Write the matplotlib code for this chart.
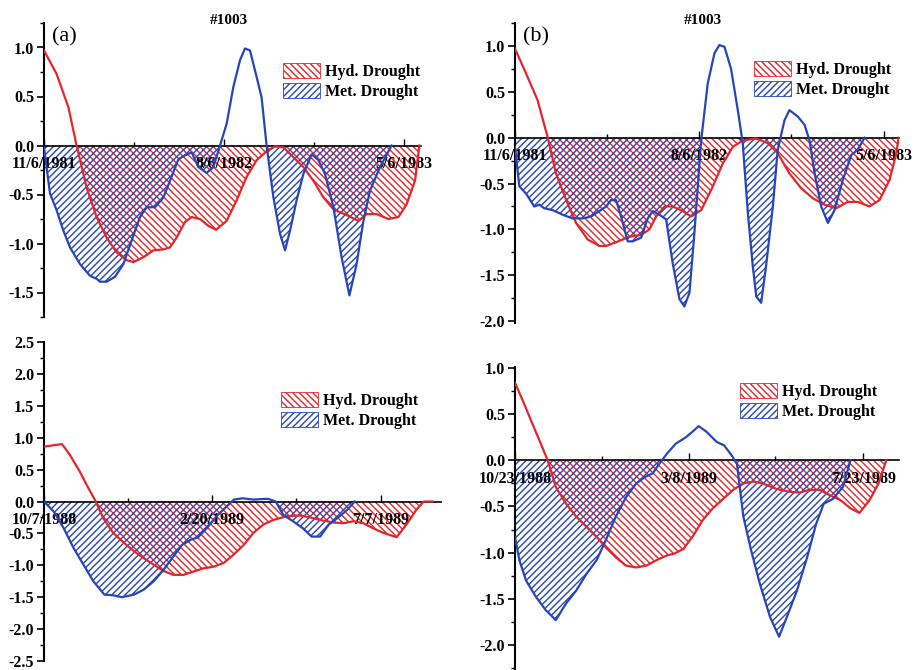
import numpy as np
import matplotlib
matplotlib.use("Agg")
import matplotlib.pyplot as plt
from matplotlib.patches import Patch
from matplotlib.ticker import MultipleLocator, FixedLocator

plt.rcParams['font.family'] = ['Liberation Serif', 'DejaVu Serif']
plt.rcParams['hatch.linewidth'] = 1.0

RED = '#e3262b'
BLUE = '#2646b8'
title = '#1003'
series_labels = ['Hyd. Drought', 'Met. Drought']

# ---- Panel (a): x in months since 11/6/1981
a_dates = ['11/6/1981', '8/6/1982', '5/6/1983']
a_date_pos = [0, 9, 18]
a_hyd_x = [0, 0.63, 1.22, 1.63, 2.13, 2.63, 3.13, 3.63, 4.13, 4.47, 4.97, 5.47, 5.97, 6.3, 6.63, 7.05,
           7.38, 7.8, 8.22, 8.6, 9.13, 9.63, 10.13, 10.63, 11.13, 11.55, 11.97, 12.47, 12.97, 13.47,
           13.97, 14.47, 15.13, 15.72, 16.13, 16.63, 17.22, 17.72, 18.13, 18.55, 18.77]
a_hyd_y = [0.97, 0.73, 0.39, 0.0, -0.43, -0.73, -0.94, -1.09, -1.17, -1.19, -1.14, -1.07, -1.06, -1.04,
           -0.94, -0.78, -0.73, -0.75, -0.82, -0.86, -0.77, -0.56, -0.32, -0.15, -0.06, -0.01, -0.02,
           -0.12, -0.22, -0.36, -0.53, -0.65, -0.71, -0.77, -0.70, -0.70, -0.75, -0.73, -0.60, -0.36, 0.0]
a_met_x = [0, 0.3, 0.63, 0.97, 1.3, 1.8, 2.3, 2.63, 2.8, 3.13, 3.55, 3.97, 4.38, 4.8, 5.13, 5.55, 5.97,
           6.3, 6.72, 7.05, 7.38, 7.72, 8.13, 8.47, 8.8, 9.13, 9.47, 9.8, 10.05, 10.3, 10.63, 10.88,
           11.13, 11.47, 11.8, 12.05, 12.3, 12.63, 12.97, 13.38, 13.72, 14.05, 14.47, 14.88, 15.27,
           15.63, 15.97, 16.3, 16.8, 17.38]
a_met_y = [-0.02, -0.49, -0.66, -0.87, -1.04, -1.21, -1.33, -1.36, -1.39, -1.39, -1.34, -1.21, -0.97,
           -0.73, -0.63, -0.63, -0.53, -0.36, -0.14, -0.10, -0.07, -0.22, -0.28, -0.22, 0.0, 0.22, 0.60,
           0.87, 0.99, 0.97, 0.70, 0.49, 0.0, -0.53, -0.90, -1.07, -0.87, -0.56, -0.29, -0.09, -0.15,
           -0.29, -0.63, -1.14, -1.53, -1.21, -0.77, -0.46, -0.22, 0.0]

# ---- Panel (b): x in months since 11/6/1981
b_dates = ['11/6/1981', '8/6/1982', '5/6/1983']
b_date_pos = [0, 9, 18]
b_hyd_x = [0, 0.54, 1.1, 1.6, 2.0, 2.5, 2.98, 3.55, 4.12, 4.45, 4.93, 5.59, 6.16, 6.56, 6.89, 7.3, 7.7,
           8.19, 8.6, 9.09, 9.58, 10.15, 10.64, 11.12, 11.78, 12.35, 12.83, 13.4, 13.97, 14.54, 15.11,
           15.68, 16.25, 16.74, 17.31, 17.8, 18.29, 18.62, 18.73]
b_hyd_y = [0.97, 0.70, 0.41, 0.0, -0.39, -0.68, -0.93, -1.11, -1.18, -1.18, -1.14, -1.08, -1.06, -1.0,
           -0.86, -0.75, -0.75, -0.80, -0.86, -0.79, -0.57, -0.28, -0.10, -0.03, -0.01, -0.06, -0.17,
           -0.39, -0.55, -0.66, -0.73, -0.77, -0.70, -0.70, -0.75, -0.68, -0.46, -0.17, 0.0]
b_met_x = [0, 0.21, 0.54, 0.94, 1.19, 1.43, 1.84, 2.33, 2.82, 3.31, 3.71, 4.12, 4.45, 4.69, 4.93, 5.18,
           5.5, 5.75, 6.16, 6.48, 6.73, 7.05, 7.38, 7.7, 8.03, 8.27, 8.52, 8.76, 9.09, 9.41, 9.74, 9.98,
           10.23, 10.55, 10.88, 11.12, 11.37, 11.61, 11.78, 12.02, 12.26, 12.59, 12.83, 13.16, 13.4,
           13.81, 14.14, 14.38, 14.63, 14.95, 15.28, 15.6, 16.01, 16.42, 16.74, 17.07]
b_met_y = [-0.10, -0.53, -0.61, -0.75, -0.73, -0.77, -0.79, -0.84, -0.88, -0.88, -0.86, -0.80, -0.75,
           -0.68, -0.68, -0.86, -1.13, -1.13, -1.09, -0.88, -0.80, -0.84, -0.89, -1.37, -1.76, -1.84,
           -1.69, -1.04, -0.03, 0.59, 0.92, 1.01, 0.99, 0.75, 0.30, -0.06, -0.82, -1.40, -1.73, -1.80,
           -1.40, -0.75, -0.13, 0.19, 0.30, 0.23, 0.14, -0.03, -0.39, -0.75, -0.93, -0.79, -0.46, -0.19,
           -0.13, 0.0]

# ---- Panel (c): x in days since 10/7/1988
c_dates = ['10/7/1988', '2/20/1989', '7/7/1989']
c_date_pos = [0, 136, 273]
c_hyd_x = [0, 14.6, 21, 29, 36, 42, 48, 56, 65, 73, 81, 89, 97, 105, 113, 121, 129, 138, 146, 154, 162,
           170, 178, 186, 197, 208, 216, 224, 235, 243, 251, 259, 267, 275, 286, 294, 302, 308, 315]
c_hyd_y = [0.86, 0.90, 0.73, 0.47, 0.21, 0.0, -0.26, -0.49, -0.65, -0.78, -0.89, -0.99, -1.09, -1.15,
           -1.15, -1.10, -1.05, -1.02, -0.96, -0.83, -0.68, -0.49, -0.36, -0.29, -0.23, -0.22, -0.25,
           -0.29, -0.33, -0.34, -0.31, -0.34, -0.42, -0.49, -0.56, -0.36, -0.13, 0.0, 0.0]
c_met_x = [0, 8, 16, 24, 32, 40, 49, 56, 63, 73, 81, 89, 97, 105, 112, 119, 125, 132, 140, 148, 154,
           161, 170, 178, 182, 188, 194, 202, 210, 217, 224, 231, 238, 246, 252]
c_met_y = [0.0, -0.16, -0.42, -0.73, -0.99, -1.25, -1.46, -1.47, -1.50, -1.46, -1.38, -1.25, -1.07,
           -0.86, -0.68, -0.60, -0.56, -0.42, -0.23, -0.08, 0.03, 0.05, 0.03, 0.04, 0.04, 0.0, -0.21,
           -0.31, -0.42, -0.55, -0.55, -0.36, -0.26, -0.13, 0.0]

# ---- Panel (d): x in days since 10/23/1988
d_dates = ['10/23/1988', '3/8/1989', '7/23/1989']
d_date_pos = [0, 136, 273]
d_hyd_x = [0, 6, 12.6, 19, 25.6, 32, 40, 48, 56, 64, 71, 79, 87, 95, 103, 111, 119, 125, 132, 140, 147,
           155, 163, 171, 179, 187, 194, 205, 215, 223, 231, 239, 247, 255, 263, 270, 278, 285, 291]
d_hyd_y = [0.84, 0.65, 0.43, 0.22, 0.0, -0.29, -0.47, -0.61, -0.72, -0.83, -0.94, -1.05, -1.14, -1.16,
           -1.14, -1.08, -1.03, -1.01, -0.96, -0.81, -0.65, -0.52, -0.42, -0.32, -0.25, -0.23, -0.25,
           -0.31, -0.34, -0.35, -0.32, -0.32, -0.38, -0.43, -0.52, -0.57, -0.43, -0.25, 0.0]
d_met_x = [0, 3.4, 8.6, 16.5, 24, 32, 40, 48, 56, 64, 71, 79, 87, 95, 102, 108, 113, 119, 126, 134, 140,
           144, 150, 158, 164, 170, 174, 179, 185, 192, 200, 207, 213, 221, 229, 236, 242, 249, 257, 263]
d_met_y = [-0.83, -1.08, -1.30, -1.48, -1.62, -1.73, -1.55, -1.41, -1.23, -1.08, -0.87, -0.61, -0.40,
           -0.25, -0.18, -0.14, -0.04, 0.07, 0.18, 0.25, 0.32, 0.37, 0.31, 0.20, 0.16, 0.05, -0.04,
           -0.61, -0.97, -1.34, -1.70, -1.91, -1.70, -1.41, -1.05, -0.69, -0.47, -0.42, -0.29, 0.0]

fig = plt.figure(figsize=(9.16, 6.7), dpi=100)
W, H = 916.0, 670.0


def px_axes(x0, x1, ytop, ybot):
    return fig.add_axes([x0 / W, 1 - ybot / H, (x1 - x0) / W, (ybot - ytop) / H])


panels = [
    dict(box=(44, 421, 23, 317), ylim=(-1.75, 1.25), xlim=(0, 18.85), yt=0.5,
         dates=a_dates, dpos=a_date_pos, hx=a_hyd_x, hy=a_hyd_y, mx=a_met_x, my=a_met_y,
         minor_x=[4.5, 13.5], tag='(a)', title=True, leg=(283, 63)),
    dict(box=(515, 899, 23, 323), ylim=(-2.02, 1.25), xlim=(0, 18.75), yt=0.5,
         dates=b_dates, dpos=b_date_pos, hx=b_hyd_x, hy=b_hyd_y, mx=b_met_x, my=b_met_y,
         minor_x=[4.5, 13.5], tag='(b)', title=True, leg=(754, 61)),
    dict(box=(44, 441, 342, 661), ylim=(-2.5, 2.5), xlim=(0, 322), yt=0.5,
         dates=c_dates, dpos=c_date_pos, hx=c_hyd_x, hy=c_hyd_y, mx=c_met_x, my=c_met_y,
         minor_x=[68, 204], tag=None, title=False, leg=(281, 392)),
    dict(box=(515, 899, 367, 670), ylim=(-2.27, 1.01), xlim=(0, 301), yt=0.5,
         dates=d_dates, dpos=d_date_pos, hx=d_hyd_x, hy=d_hyd_y, mx=d_met_x, my=d_met_y,
         minor_x=[68, 204], tag=None, title=False, leg=(740, 383)),
]

HATCH_R = '\\' * 5
HATCH_B = '/' * 5

for p in panels:
    ax = px_axes(*p['box'])
    ax.set_facecolor('none')
    hx, hy = np.array(p['hx']), np.array(p['hy'])
    mx, my = np.array(p['mx']), np.array(p['my'])
    ax.fill_between(hx, 0, np.minimum(hy, 0), facecolor='none', edgecolor=RED,
                    hatch=HATCH_R, linewidth=0, zorder=1)
    ax.fill_between(mx, 0, np.minimum(my, 0), facecolor='none', edgecolor=BLUE,
                    hatch=HATCH_B, linewidth=0, zorder=1)
    ax.plot(hx, hy, color=RED, lw=1.6, zorder=3)
    ax.plot(mx, my, color=BLUE, lw=1.6, zorder=3)
    ax.set_xlim(*p['xlim'])
    ax.set_ylim(*p['ylim'])
    for s in ['top', 'right']:
        ax.spines[s].set_visible(False)
    ax.spines['bottom'].set_position(('data', 0))
    ax.spines['bottom'].set_linewidth(1.2)
    ax.spines['left'].set_linewidth(1.5)
    ax.xaxis.set_major_locator(FixedLocator(p['dpos']))
    ax.xaxis.set_minor_locator(FixedLocator(p['minor_x']))
    ax.set_xticklabels(p['dates'], fontsize=11.5, fontweight='bold')
    ax.tick_params(axis='x', which='major', direction='in', length=5, width=1, pad=7.5)
    ax.tick_params(axis='x', which='minor', direction='in', length=3, width=1)
    ax.yaxis.set_major_locator(MultipleLocator(p['yt']))
    ax.yaxis.set_minor_locator(MultipleLocator(p['yt'] / 2))
    ax.yaxis.set_major_formatter(matplotlib.ticker.FormatStrFormatter('%.1f'))
    ax.tick_params(axis='y', which='major', direction='out', length=5, width=1.2,
                   labelsize=11.5, pad=2)
    ax.tick_params(axis='y', which='minor', direction='out', length=3, width=1)
    for lab in ax.get_yticklabels():
        lab.set_fontweight('bold')
    if p['tag']:
        ax.text(0.02, 0.985, p['tag'], transform=ax.transAxes, fontsize=16,
                ha='left', va='top')
    if p['title']:
        x0, x1 = p['box'][0], p['box'][1]
        fig.text((x0 + 0.49 * (x1 - x0)) / W, 1 - 20 / H, title, fontsize=11,
                 fontweight='bold', ha='center', va='center')
    handles = [Patch(facecolor='white', edgecolor=RED, hatch=HATCH_R, linewidth=0.6),
               Patch(facecolor='white', edgecolor=BLUE, hatch=HATCH_B, linewidth=0.6)]
    lx, ly = p['leg']
    fig.legend(handles, series_labels, loc='upper left',
               bbox_to_anchor=(lx / W, 1 - ly / H), frameon=False,
               prop={'size': 11.5, 'weight': 'bold'}, handlelength=2.3,
               handleheight=1.05, handletextpad=0.3, labelspacing=0.2,
               borderpad=0, borderaxespad=0)

fig.savefig('out.png', dpi=100)
